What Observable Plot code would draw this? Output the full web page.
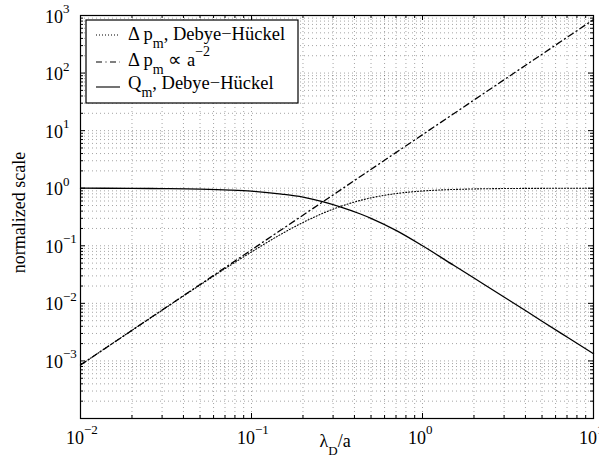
<!DOCTYPE html>
<html>
<head>
<meta charset="utf-8">
<script src="https://cdn.jsdelivr.net/npm/d3@7"></script>
<script src="https://cdn.jsdelivr.net/npm/@observablehq/plot@0.6"></script>
<style>
  html, body { margin: 0; padding: 0; background: white; }
  #chart svg { display: block; }
</style>
</head>
<body>
<div id="chart"></div>
<script>
// ---- data ----
const lambdaDH = [0.01, 0.02, 0.03, 0.05, 0.07, 0.1, 0.15, 0.2, 0.3, 0.4, 0.5, 0.7, 1, 1.5, 2, 3, 5, 7, 10];
const deltaPDH = [0.00085, 0.0034, 0.0076, 0.0208, 0.040, 0.078, 0.161, 0.254, 0.433, 0.576, 0.68, 0.806, 0.895, 0.95, 0.971, 0.987, 0.995, 0.9976, 0.9988];

const lambdaPow = [0.01, 0.1, 1, 10];
const deltaPPow = [0.00085, 0.085, 8.5, 850];

const lambdaQ = [0.01, 0.02, 0.03, 0.05, 0.075, 0.1, 0.15, 0.2, 0.26, 0.33, 0.43, 0.5, 0.7, 1, 1.5, 2, 3.16, 5, 7, 10];
const qDH = [1.0, 0.995, 0.985, 0.965, 0.93, 0.89, 0.79, 0.70, 0.585, 0.475, 0.36, 0.30, 0.185, 0.10, 0.047, 0.0275, 0.0117, 0.0049, 0.0026, 0.00133];

// ---- ticks ----
const xMajor = [0.01, 0.1, 1, 10];
const xExp = ["\u22122", "\u22121", "0", "1"];
const yMajor = [1e-4, 1e-3, 1e-2, 1e-1, 1, 10, 100, 1000];
const yLabelVals = [1e-3, 1e-2, 1e-1, 1, 10, 100, 1000];
const yExp = ["\u22123", "\u22122", "\u22121", "0", "1", "2", "3"];
const minorMult = [2, 3, 4, 5, 6, 7, 8, 9];
const xMinor = [0.01, 0.1, 1].flatMap(d => minorMult.map(m => +(d * m).toPrecision(3)));
const yMinor = [1e-4, 1e-3, 1e-2, 1e-1, 1, 10, 100].flatMap(d => minorMult.map(m => +(d * m).toPrecision(3)));

// ---- legend labels ----
const legendRows = [
  {dash: "1,2", parts: [["Δ p", 0], ["m", 1], [", Debye\u2212Hückel", 0]]},
  {dash: "6,3.5,1,3.5", parts: [["Δ p", 0], ["m", 1], [" ∝ a", 0], ["\u22122", 2]]},
  {dash: null, parts: [["Q", 0], ["m", 1], [", Debye\u2212Hückel", 0]]}
];
const xTitle = [["λ", 0], ["D", 1], ["/a", 0]];
const yTitle = "normalized scale";

const W = 599, H = 463, mL = 80, mR = 6, mT = 15, mB = 45;
const innerW = W - mL - mR, innerH = H - mT - mB;
const FONT = "Liberation Serif, Times New Roman, serif";

const dh = lambdaDH.map((x, i) => ({x, y: deltaPDH[i]}));
const pw = lambdaPow.map((x, i) => ({x, y: deltaPPow[i]}));
const qq = lambdaQ.map((x, i) => ({x, y: qDH[i]}));

const gridStyle = {stroke: "#000", strokeOpacity: 0.45, strokeDasharray: "1,3", strokeWidth: 0.8};

const chart = Plot.plot({
  width: W, height: H,
  marginLeft: mL, marginRight: mR, marginTop: mT, marginBottom: mB,
  x: {type: "log", domain: [0.01, 10], axis: null},
  y: {type: "log", domain: [1e-4, 1e3], axis: null},
  style: {fontFamily: FONT, background: "white", color: "black", fontSize: "18px"},
  marks: [
    // grid
    Plot.ruleX(xMinor.concat([0.1, 1]), {x: d => d, ...gridStyle}),
    Plot.ruleY(yMinor.concat([1e-3, 1e-2, 1e-1, 1, 10, 100]), {y: d => d, ...gridStyle}),
    // inward ticks: bottom & top
    Plot.tickX(xMajor, {x: d => d, insetTop: innerH - 5, stroke: "black"}),
    Plot.tickX(xMajor, {x: d => d, insetBottom: innerH - 5, stroke: "black"}),
    Plot.tickX(xMinor, {x: d => d, insetTop: innerH - 3, stroke: "black"}),
    Plot.tickX(xMinor, {x: d => d, insetBottom: innerH - 3, stroke: "black"}),
    // inward ticks: left & right
    Plot.tickY(yMajor, {y: d => d, insetRight: innerW - 5, stroke: "black"}),
    Plot.tickY(yMajor, {y: d => d, insetLeft: innerW - 5, stroke: "black"}),
    Plot.tickY(yMinor, {y: d => d, insetRight: innerW - 3, stroke: "black"}),
    Plot.tickY(yMinor, {y: d => d, insetLeft: innerW - 3, stroke: "black"}),
    // curves
    Plot.line(dh, {x: "x", y: "y", stroke: "black", strokeWidth: 1.1, strokeDasharray: "1,2", curve: "monotone-x"}),
    Plot.line(pw, {x: "x", y: "y", stroke: "black", strokeWidth: 1.3, strokeDasharray: "6,3.5,1,3.5"}),
    Plot.line(qq, {x: "x", y: "y", stroke: "black", strokeWidth: 1.3, curve: "monotone-x"}),
    Plot.frame({stroke: "black", strokeWidth: 1.2}),
    // x tick labels
    Plot.text(xMajor, {x: d => d, y: 1e-4, text: () => "10", textAnchor: "end", lineAnchor: "bottom", dx: 3.5, dy: 25, fontSize: 18}),
    Plot.text(xMajor, {x: d => d, y: 1e-4, text: (d, i) => xExp[i], textAnchor: "start", lineAnchor: "bottom", dx: 3.5, dy: 15, fontSize: 13}),
    // y tick labels
    Plot.text(yLabelVals, {x: 0.01, y: d => d, text: () => "10", textAnchor: "end", lineAnchor: "bottom", dx: -17.5, dy: 7, fontSize: 18}),
    Plot.text(yLabelVals, {x: 0.01, y: d => d, text: (d, i) => yExp[i], textAnchor: "start", lineAnchor: "bottom", dx: -17.5, dy: -2.5, fontSize: 13})
  ]
});

document.getElementById("chart").appendChild(chart);

// ---- axis titles and legend ----
const svg = d3.select(chart);
const sx = chart.scale("x"), sy = chart.scale("y");
const cx = (sx.apply(0.01) + sx.apply(10)) / 2;

function addParts(textSel, parts, baseSize, subSize) {
  let shift = 0;
  parts.forEach(([t, kind]) => {
    const target = kind === 1 ? 8 : kind === 2 ? -10 : 0;
    textSel.append("tspan").attr("dy", target - shift).attr("font-size", kind ? subSize : baseSize).text(t);
    shift = target;
  });
}

const xt = svg.append("text").attr("x", cx - 17).attr("y", 447).attr("text-anchor", "start")
  .attr("font-family", FONT).attr("fill", "black");
addParts(xt, xTitle, 18, 13);

svg.append("text")
  .attr("transform", `translate(25,${(sy.apply(1e-4) + sy.apply(1e3)) / 2 - 4}) rotate(-90)`)
  .attr("text-anchor", "middle").attr("font-family", FONT).attr("font-size", 18).attr("fill", "black")
  .text(yTitle);

const lg = svg.append("g");
lg.append("rect").attr("x", 86).attr("y", 20).attr("width", 212).attr("height", 83)
  .attr("fill", "white").attr("stroke", "black").attr("stroke-width", 1.2);
const rowBase = [40, 66, 89];
const rowLine = [35, 62, 87];
legendRows.forEach((r, i) => {
  const ln = lg.append("line").attr("x1", 96).attr("x2", 120).attr("y1", rowLine[i]).attr("y2", rowLine[i])
    .attr("stroke", "black").attr("stroke-width", 1.1);
  if (r.dash) ln.attr("stroke-dasharray", r.dash);
  const t = lg.append("text").attr("x", 128).attr("y", rowBase[i]).attr("text-anchor", "start")
    .attr("font-family", FONT).attr("fill", "black");
  addParts(t, r.parts, 18.5, 14);
});
</script>
</body>
</html>
